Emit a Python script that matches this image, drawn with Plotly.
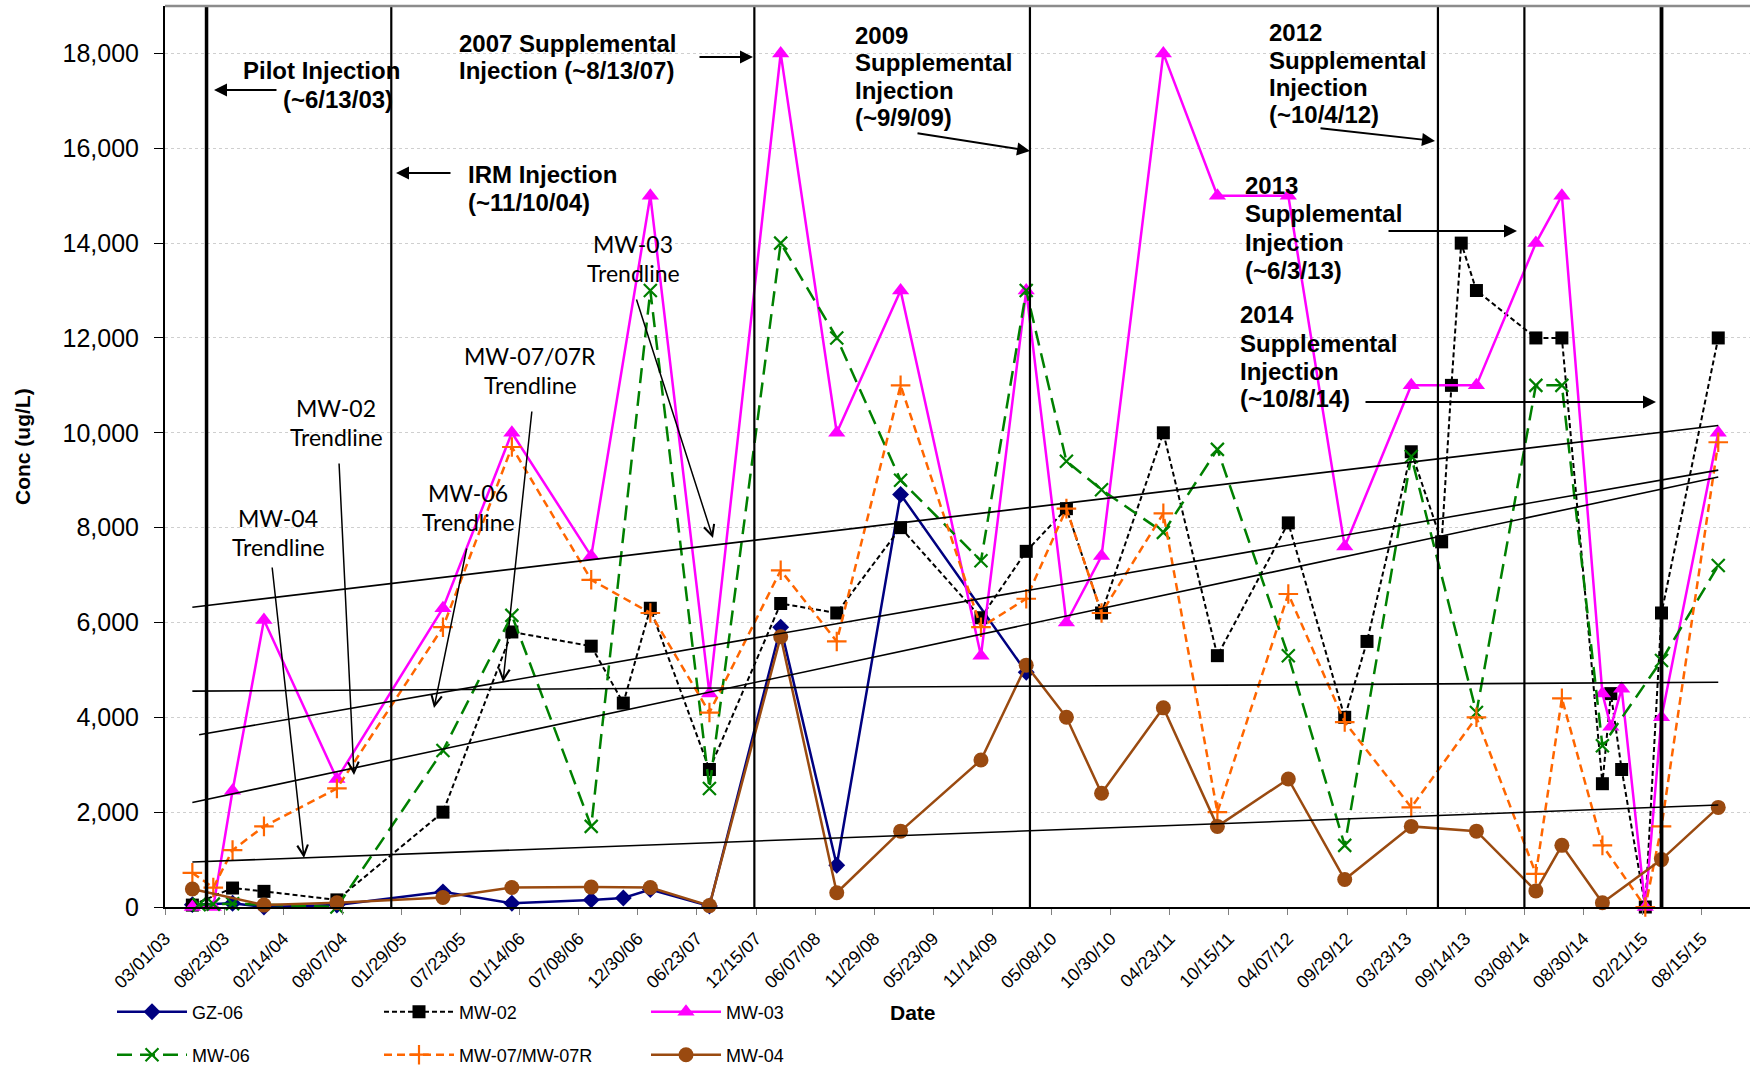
import numpy as np
import pandas as pd
import plotly.graph_objects as go

# ---------------- data ----------------
gz06_dates = ["2003-05-21", "2003-09-17", "2003-12-19", "2004-07-22", "2005-06-01", "2005-12-22",
              "2006-08-14", "2006-11-17", "2007-02-05", "2007-07-30", "2008-02-26", "2008-08-10",
              "2009-02-15", "2010-02-22"]
gz06_vals = [50, 80, 0, 40, 320, 80, 150, 190, 370, 20, 5900, 880, 8700, 4950]

mw02_dates = ["2003-05-21", "2003-09-17", "2003-12-19", "2004-07-22", "2005-06-01", "2005-12-22",
              "2006-08-14", "2006-11-17", "2007-02-05", "2007-07-30", "2008-02-26", "2008-08-10",
              "2009-02-15", "2009-10-11", "2010-02-22", "2010-06-21", "2010-10-03", "2011-04-04",
              "2011-09-11", "2012-04-08", "2012-09-22", "2012-11-27", "2013-04-07", "2013-07-06",
              "2013-08-04", "2013-09-02", "2013-10-17", "2014-04-11", "2014-06-27", "2014-10-25",
              "2014-11-19", "2014-12-21", "2015-03-01", "2015-04-18", "2015-10-03"]
mw02_vals = [40, 400, 330, 150, 2000, 5800, 5500, 4300, 6300, 2900, 6400, 6200, 8000, 6100, 7500,
             8400, 6200, 10000, 5300, 8100, 4000, 5600, 9600, 7700, 11000, 14000, 13000, 12000,
             12000, 2600, 4500, 2900, 0, 6200, 12000]

mw03_dates = ["2003-05-21", "2003-07-22", "2003-09-17", "2003-12-19", "2004-07-22", "2005-06-01",
              "2005-12-22", "2006-08-14", "2007-02-05", "2007-07-30", "2008-02-26", "2008-08-10",
              "2009-02-15", "2009-10-11", "2010-02-22", "2010-06-21", "2010-10-03", "2011-04-04",
              "2011-09-11", "2012-04-08", "2012-09-22", "2013-04-07", "2013-10-17", "2014-04-11",
              "2014-06-27", "2014-10-25", "2014-11-19", "2014-12-21", "2015-03-01", "2015-04-18",
              "2015-10-03"]
mw03_vals = [0, 0, 2450, 6050, 2700, 6300, 10000, 7400, 15000, 4500, 18000, 10000, 13000, 5300,
             13000, 6000, 7400, 18000, 15000, 15000, 7600, 11000, 11000, 14000, 15000, 4500, 3800,
             4600, 0, 4000, 10000]

mw06_dates = ["2003-06-10", "2003-07-22", "2003-09-17", "2004-07-22", "2005-06-01", "2005-12-22",
              "2006-08-14", "2007-02-05", "2007-07-30", "2008-02-26", "2008-08-10", "2009-02-15",
              "2009-10-11", "2010-02-22", "2010-06-21", "2010-10-03", "2011-04-04", "2011-09-11",
              "2012-04-08", "2012-09-22", "2013-04-07", "2013-10-17", "2014-04-11", "2014-06-27",
              "2014-10-25", "2015-04-18", "2015-10-03"]
mw06_vals = [50, 60, 70, 0, 3300, 6150, 1700, 13000, 2500, 14000, 12000, 9000, 7300, 13000, 9400,
             8800, 7900, 9650, 5300, 1300, 9500, 4100, 11000, 11000, 3400, 5200, 7200]

mw07_dates = ["2003-05-21", "2003-07-22", "2003-09-17", "2003-12-19", "2004-07-22", "2005-06-01",
              "2005-12-22", "2006-08-14", "2007-02-05", "2007-07-30", "2008-02-26", "2008-08-10",
              "2009-02-15", "2009-10-11", "2010-02-22", "2010-06-21", "2010-10-03", "2011-04-04",
              "2011-09-11", "2012-04-08", "2012-09-22", "2013-04-07", "2013-10-17", "2014-04-11",
              "2014-06-27", "2014-10-25", "2015-03-01", "2015-04-18", "2015-10-03"]
mw07_vals = [720, 410, 1200, 1700, 2500, 5900, 9700, 6900, 6200, 4100, 7100, 5600, 11000, 5900,
             6500, 8400, 6200, 8300, 2000, 6600, 3900, 2100, 4000, 700, 4400, 1300, 0, 1700, 9800]

mw04_dates = ["2003-05-21", "2003-12-19", "2004-07-22", "2005-06-01", "2005-12-22", "2006-08-14",
              "2007-02-05", "2007-07-30", "2008-02-26", "2008-08-10", "2009-02-15", "2009-10-11",
              "2010-02-22", "2010-06-21", "2010-10-03", "2011-04-04", "2011-09-11", "2012-04-08",
              "2012-09-22", "2013-04-07", "2013-10-17", "2014-04-11", "2014-06-27", "2014-10-25",
              "2015-04-18", "2015-10-03"]
mw04_vals = [380, 40, 90, 200, 410, 420, 410, 30, 5700, 300, 1600, 3100, 5100, 4000, 2400, 4200,
             1700, 2700, 580, 1700, 1600, 340, 1300, 90, 1000, 2100]

tick_dates = ["2003-03-01", "2003-08-23", "2004-02-14", "2004-08-07", "2005-01-29", "2005-07-23",
              "2006-01-14", "2006-07-08", "2006-12-30", "2007-06-23", "2007-12-15", "2008-06-07",
              "2008-11-29", "2009-05-23", "2009-11-14", "2010-05-08", "2010-10-30", "2011-04-23",
              "2011-10-15", "2012-04-07", "2012-09-29", "2013-03-23", "2013-09-14", "2014-03-08",
              "2014-08-30", "2015-02-21", "2015-08-15"]
tick_labels = [pd.Timestamp(d).strftime("%m/%d/%y") for d in tick_dates]

injection_dates = ["2003-07-02", "2004-12-30", "2007-12-10", "2010-03-05", "2013-06-25",
                   "2014-03-08", "2015-04-18"]
injection_widths = [3.5, 2.2, 2.2, 2.2, 2.2, 2.2, 3.8]

# ---------------- layout geometry ----------------
W, H = 1752, 1066
L, R, T, B = 165, 2, 6, 159
PW = W - L - R
PH = H - T - B


def px(x):
    return (x - L) / PW


def py(y):
    return (H - B - y) / PH


fig = go.Figure()

series = [
    ("GZ-06", gz06_dates, gz06_vals, "#000080", "solid", 2.5, "diamond", 13, "legend"),
    ("MW-02", mw02_dates, mw02_vals, "#000000", "5px,3px", 2, "square", 13, "legend"),
    ("MW-03", mw03_dates, mw03_vals, "#FF00FF", "solid", 2.5, "triangle-up", 15, "legend"),
    ("MW-06", mw06_dates, mw06_vals, "#008000", "15px,8px", 2.5, "x-thin-open", 13, "legend2"),
    ("MW-07/MW-07R", mw07_dates, mw07_vals, "#FF6600", "8px,5px", 2.5, "cross-thin-open", 14, "legend2"),
    ("MW-04", mw04_dates, mw04_vals, "#9A4A10", "solid", 2.5, "circle", 15, "legend2"),
]

for name, d, v, col, dash, lw, sym, ms, leg in series:
    marker = dict(symbol=sym, size=ms, color=col)
    if "open" in sym:
        marker["line"] = dict(color=col, width=2.2)
    fig.add_trace(go.Scatter(
        x=pd.to_datetime(d), y=v, name=name, mode="lines+markers",
        line=dict(color=col, width=lw, dash=dash), marker=marker,
        cliponaxis=False, legend=leg))

# linear trendlines (least squares on date), spanning each series' date range
for name, d, v in [("MW-03", mw03_dates, mw03_vals), ("MW-07/MW-07R", mw07_dates, mw07_vals),
                   ("MW-02", mw02_dates, mw02_vals), ("MW-06", mw06_dates, mw06_vals),
                   ("MW-04", mw04_dates, mw04_vals)]:
    dt = pd.to_datetime(d)
    days = (dt - dt[0]).days.values.astype(float)
    k, b0 = np.polyfit(days, np.array(v, float), 1)
    xs = [dt[0], dt[-1]]
    ys = [b0, k * days[-1] + b0]
    fig.add_trace(go.Scatter(x=xs, y=ys, mode="lines", line=dict(color="black", width=1.6),
                             showlegend=False, hoverinfo="skip"))

# injection vertical lines
for dte, wdt in zip(injection_dates, injection_widths):
    fig.add_shape(type="line", xref="x", yref="paper", x0=dte, x1=dte, y0=0, y1=1,
                  line=dict(color="black", width=wdt))
# top border
fig.add_shape(type="line", xref="paper", yref="paper", x0=0, x1=1, y0=1, y1=1,
              line=dict(color="#8C8C8C", width=2.5))

ann = []
bold_font = dict(family="Liberation Sans, Arial", size=24, color="black")
# (lines, anchor_x, [line centre ys], anchor)
inj_texts = [
    (["Pilot Injection", "(~6/13/03)"], [402, 395], [71, 100], "right"),
    (["IRM Injection", "(~11/10/04)"], [466, 466], [175, 203], "left"),
    (["2007 Supplemental", "Injection (~8/13/07)"], [457, 457], [43, 71], "left"),
    (["2009", "Supplemental", "Injection", "(~9/9/09)"], [853] * 4, [35, 63, 91, 118], "left"),
    (["2012", "Supplemental", "Injection", "(~10/4/12)"], [1267] * 4, [32, 60, 87, 115], "left"),
    (["2013", "Supplemental", "Injection", "(~6/3/13)"], [1243] * 4, [186, 213, 242, 270], "left"),
    (["2014", "Supplemental", "Injection", "(~10/8/14)"], [1238] * 4, [315, 343, 371, 398], "left"),
]
for lines, xs_, ys_, al in inj_texts:
    for t_, x, y in zip(lines, xs_, ys_):
        ann.append(dict(text="<b>" + t_ + "</b>", x=px(x), y=py(y), xref="paper", yref="paper",
                        showarrow=False, xanchor=al, yanchor="middle", font=bold_font))

trend_font = dict(family="Lato, Open Sans", size=23, color="black")
trend_texts = [
    ("MW-03", 633, 244), ("Trendline", 633, 273),
    ("MW-07/07R", 530, 356), ("Trendline", 530, 385),
    ("MW-02", 336, 408), ("Trendline", 336, 437),
    ("MW-06", 468, 493), ("Trendline", 468, 522),
    ("MW-04", 278, 518), ("Trendline", 278, 547),
]
for txt, x, y in trend_texts:
    ann.append(dict(text=txt, x=px(x), y=py(y), xref="paper", yref="paper", showarrow=False,
                    xanchor="center", yanchor="middle", font=trend_font))

# arrows: (head_x, head_y, tail_x, tail_y)
inj_arrows = [(214, 90, 278, 90), (396, 173, 452, 173), (753, 57, 698, 57),
              (1030, 151, 916, 133), (1435, 141, 1319, 128), (1517, 231, 1387, 231),
              (1656, 402, 1364, 402)]
for hx, hy, tx, ty in inj_arrows:
    ann.append(dict(text="", x=px(hx), y=py(hy), xref="paper", yref="paper", showarrow=True,
                    ax=tx - hx, ay=ty - hy, arrowhead=2, arrowsize=1.3, arrowwidth=2,
                    arrowcolor="black"))
trend_arrows = [(713, 538, 636, 298), (503, 682, 532, 410), (354, 775, 339, 462),
                (434, 708, 467, 547), (304, 858, 272, 566)]
for hx, hy, tx, ty in trend_arrows:
    ann.append(dict(text="", x=px(hx), y=py(hy), xref="paper", yref="paper", showarrow=True,
                    ax=tx - hx, ay=ty - hy, arrowhead=5, arrowsize=1.4, arrowwidth=1.5,
                    arrowcolor="black"))

# axis titles
ann.append(dict(text="<b>Conc (ug/L)</b>", x=px(22), y=py(447), xref="paper", yref="paper",
                xanchor="center", yanchor="middle",
                showarrow=False, textangle=-90, font=dict(family="Liberation Sans, Arial", size=21)))
ann.append(dict(text="<b>Date</b>", x=px(913), y=py(1012), xref="paper", yref="paper",
                xanchor="center", yanchor="middle",
                showarrow=False, font=dict(family="Liberation Sans, Arial", size=21)))

leg_common = dict(orientation="h", xanchor="left", yanchor="middle",
                  entrywidth=182, entrywidthmode="pixels", itemwidth=70,
                  font=dict(size=18, family="Liberation Sans, Arial"), bgcolor="rgba(0,0,0,0)")

fig.update_layout(
    width=W, height=H,
    margin=dict(l=L, r=R, t=T, b=B, autoexpand=False),
    paper_bgcolor="white", plot_bgcolor="white",
    annotations=ann,
    font=dict(family="Liberation Sans, Arial", color="black"),
    legend=dict(x=px(112), y=py(1012), **leg_common),
    legend2=dict(x=px(112), y=py(1055), **leg_common),
    xaxis=dict(type="date", range=["2003-03-01", "2016-01-05"], tickmode="array",
               tickvals=tick_dates, ticktext=tick_labels, tickangle=-45,
               tickfont=dict(size=18, family="Liberation Sans, Arial"),
               ticks="outside", ticklen=6, tickcolor="#808080", showgrid=False,
               ticklabelstandoff=6,
               showline=True, linecolor="black", linewidth=2, zeroline=False),
    yaxis=dict(range=[0, 19000], tickvals=list(range(0, 18001, 2000)), tickformat=",d",
               tickfont=dict(size=25, family="Liberation Sans, Arial"),
               ticks="outside", ticklen=9, tickcolor="black", showline=True, linecolor="black",
               ticklabelstandoff=10,
               linewidth=2, showgrid=True, gridcolor="#CFCFCF", griddash="dot", gridwidth=1,
               zeroline=False),
)

fig.write_html("out.html", config={"displayModeBar": False},
               post_script="document.body.style.margin='0';document.body.style.overflow='hidden';")
